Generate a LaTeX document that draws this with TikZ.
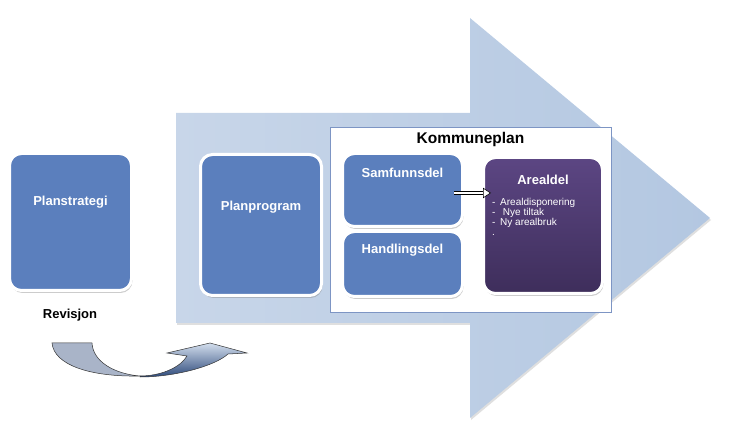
\documentclass[tikz,border=0pt]{standalone}
\usepackage{fontspec}
\setmainfont{Liberation Sans}
\usetikzlibrary{positioning,shadows,arrows.meta}
\definecolor{boxblue}{HTML}{5B7FBD}
\definecolor{arealtop}{HTML}{5C4683}
\definecolor{arealbot}{HTML}{3E2E5B}
\definecolor{arrowlight}{HTML}{C8D6E9}
\definecolor{arrowdark}{HTML}{B3C7E1}
\definecolor{framecol}{HTML}{7D95C4}
\definecolor{cycleleft}{HTML}{A9B4C8}
\definecolor{cycledark}{HTML}{2F4B7C}
\tikzset{bigarrow/.style={left color=arrowlight, right color=arrowdark, drop shadow={opacity=0.25, shadow xshift=1pt, shadow yshift=-2pt}}}
\tikzset{bluebox/.style={rounded corners=12pt, fill=boxblue, draw=white, line width=3pt, drop shadow={opacity=0.4, shadow xshift=1pt, shadow yshift=-2.5pt}}}
\tikzset{arealbox/.style={bluebox, top color=arealtop, bottom color=arealbot}}
\tikzset{planframe/.style={draw=framecol, fill=white, line width=0.8pt}}
\tikzset{boxtitle/.style={text=white, font=\fontsize{13}{13}\selectfont\bfseries, inner sep=0pt}}
\tikzset{linkarrow/.style={double=white, double distance=2.6pt, line width=0.6pt, -{Triangle[open, fill=white, length=8pt, width=10.5pt]}}}
\tikzset{cyclearrow/.style={draw=black!80, line width=0.5pt}}

\begin{document}
\begin{tikzpicture}[x=1pt,y=-1pt]
% planstrategi on its own, then planprogram and kommuneplan inside the big arrow
\useasboundingbox (0,0) rectangle (739,438);
\shade[bigarrow] (176,113) -- (470,113) -- (470,18) -- (710,218) -- (470,418) -- (470,323) -- (176,323) -- cycle;
\node (komm) at (470.5,219.5)[planframe, minimum width=281pt, minimum height=185pt]{};
\node (kommt) at ([yshift=-13pt]komm.north)[inner sep=0pt, font=\fontsize{15.5}{15.5}\selectfont\bfseries]{Kommuneplan};
\node (strat) at (70.5,222)[bluebox, minimum width=122pt, minimum height=137pt]{};
\node (stratt) at ([yshift=-50pt]strat.north)[boxtitle]{Planstrategi};
\node (rev) at (70,315)[inner sep=0pt, font=\fontsize{13}{13}\selectfont\bfseries]{Revisjon};
\node (prog) at (261,225)[bluebox, minimum width=121pt, minimum height=141pt]{};
\node (progt) at ([yshift=-54pt]prog.north)[boxtitle]{Planprogram};
\node (samf) at (402.5,190)[bluebox, minimum width=120pt, minimum height=73pt]{};
\node (samft) at ([yshift=-21pt]samf.north)[boxtitle]{Samfunnsdel};
\node (hand) at (402.5,264)[bluebox, minimum width=120pt, minimum height=65pt]{};
\node (handt) at ([yshift=-20pt]hand.north)[boxtitle]{Handlingsdel};
\node (areal) at (543,225.5)[arealbox, minimum width=119pt, minimum height=136pt]{};
\node (arealt) at ([yshift=-24pt]areal.north)[boxtitle]{Arealdel};
\node (arealb) at (492,198)[anchor=north west, inner sep=0pt, text=white, align=left, font=\fontsize{10}{10}\selectfont]{\makebox[8pt][l]{-}Arealdisponering\\\makebox[8pt][l]{-}\ Nye tiltak\\\makebox[8pt][l]{-}Ny arealbruk\\\makebox[8pt][l]{.}};
\draw[linkarrow, shorten <=-10pt, shorten >=-9pt] (samf.east |- 0,193) -- (areal.west |- 0,193);
% revisjon arrow
\draw[cyclearrow, fill=cycleleft] (52,343) -- (92,343) .. controls (93,362) and (115,374) .. (140,376) .. controls (90,377) and (54,365) .. (52,343) -- cycle;
\draw[cyclearrow, top color=arrowlight!80!white, bottom color=cycledark] (140,376) .. controls (160,376) and (180,368) .. (187,356) -- (167,353) -- (210,343) -- (247,353) -- (228,354) .. controls (215,366) and (175,377) .. (140,377) -- cycle;
\end{tikzpicture}
\end{document}
